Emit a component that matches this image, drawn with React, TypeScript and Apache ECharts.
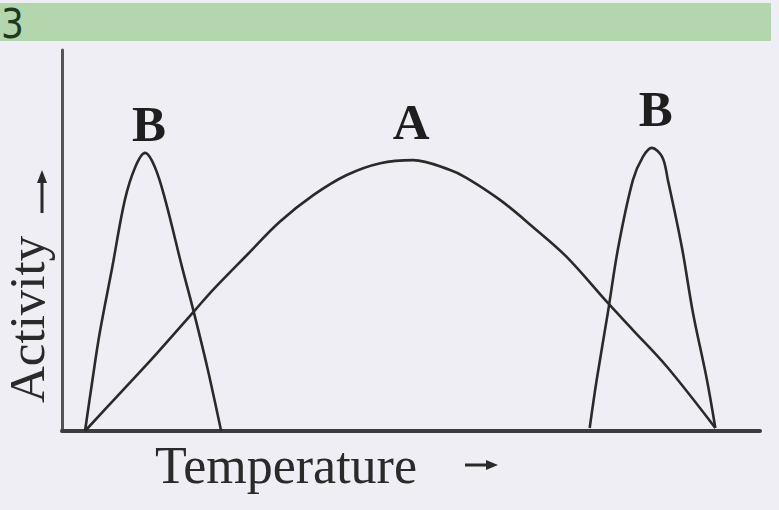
import React, { useEffect, useRef } from "react";
import * as echarts from "echarts";

// Temperature (0-100) vs Activity (0-100)
const curveA: [number, number][] = [
  [3.3, 0], [8.0, 9.3], [13.5, 20.2], [19.1, 31.8], [21.6, 37.0], [26.5, 46.2],
  [31.2, 54.9], [36.0, 61.9], [40.8, 67.2], [45.6, 70.3], [50.3, 71.1],
  [55.6, 68.5], [58.0, 66.4], [62.8, 60.6], [67.5, 53.5], [72.3, 45.7],
  [78.2, 33.6], [81.8, 26.5], [86.7, 16.8], [93.6, 0.8],
];
const curveBLow: [number, number][] = [
  [3.3, 0], [4.3, 12.6], [5.4, 25.7], [7.2, 43.0], [9.0, 60.6], [10.5, 69.3],
  [11.9, 73.0], [13.3, 69.3], [14.8, 60.6], [17.2, 43.0], [18.8, 31.8],
  [20.8, 16.8], [22.8, 0],
];
const curveBHigh: [number, number][] = [
  [75.6, 0.8], [76.6, 13.4], [78.2, 31.0], [79.7, 48.3], [81.8, 65.9], [83.2, 71.9],
  [84.5, 74.3], [86.0, 71.9], [86.8, 65.9], [88.8, 48.3], [90.4, 31.0],
  [92.4, 13.4], [93.6, 0.8],
];
const curveLabels = ["B", "A", "B"];
const xTitle = "Temperature";
const yTitle = "Activity";
const bandText = "3";

const INK = "#2a2a2a";

export default function App() {
  const ref = useRef<HTMLDivElement>(null);
  useEffect(() => {
    if (!ref.current) return;
    const chart = echarts.init(ref.current, undefined, { renderer: "svg" });
    const curves = [curveBLow, curveA, curveBHigh];
    const labelStyle = [
      { distance: 3, offset: [4, 0] },
      { distance: 13, offset: [-2, 0] },
      { distance: 13, offset: [4, 0] },
    ];
    const series = curves.map((pts, i) => ({
      type: "line",
      data: pts,
      smooth: 0.35,
      symbol: "none",
      lineStyle: { color: INK, width: 2.6 },
      markPoint: {
        symbol: "circle",
        symbolSize: 0,
        data: [{ type: "max", valueDim: "y" }],
        label: {
          show: true,
          formatter: curveLabels[i],
          position: "top",
          distance: labelStyle[i].distance,
          offset: labelStyle[i].offset,
          fontFamily: "Liberation Serif",
          fontWeight: "bold",
          fontSize: 51,
          color: "#1e1e1e",
        },
      },
    }));
    chart.setOption({
      animation: false,
      backgroundColor: "#eeeef4",
      grid: { left: 62, right: 19, top: 50, bottom: 79 },
      xAxis: {
        type: "value",
        min: 0,
        max: 100,
        axisLine: { show: true, onZero: false, lineStyle: { color: "#3c3c3c", width: 4 } },
        axisTick: { show: false },
        axisLabel: { show: false },
        splitLine: { show: false },
      },
      yAxis: {
        type: "value",
        min: 0,
        max: 100,
        axisLine: { show: true, onZero: false, lineStyle: { color: "#555", width: 3 } },
        axisTick: { show: false },
        axisLabel: { show: false },
        splitLine: { show: false },
      },
      series,
      graphic: [
        { type: "rect", shape: { x: 0, y: 3, width: 771, height: 38 }, style: { fill: "#b4d6ae" }, z: -1 },
        {
          type: "text", x: 1, y: 24,
          style: { text: bandText, fontFamily: "DejaVu Sans Condensed", fontSize: 40, fill: "#1f3a1f", textVerticalAlign: "middle" },
        },
        {
          type: "text", x: 155, y: 465,
          style: { text: xTitle, fontFamily: "Liberation Serif", fontSize: 52, fill: INK, textVerticalAlign: "middle" },
        },
        { type: "line", shape: { x1: 465, y1: 465, x2: 490, y2: 465 }, style: { stroke: INK, lineWidth: 3 } },
        { type: "polygon", shape: { points: [[486, 460], [498, 465], [486, 470]] }, style: { fill: INK } },
        {
          type: "text", x: 27, y: 403, rotation: Math.PI / 2,
          style: { text: yTitle, fontFamily: "Liberation Serif", fontSize: 51, fill: INK, textAlign: "left", textVerticalAlign: "middle" },
        },
        { type: "line", shape: { x1: 42, y1: 213, x2: 42, y2: 180 }, style: { stroke: INK, lineWidth: 3 } },
        { type: "polygon", shape: { points: [[37, 183], [42, 170], [47, 183]] }, style: { fill: INK } },
      ],
    });
    return () => chart.dispose();
  }, []);
  return <div ref={ref} style={{ position: "fixed", left: 0, top: 0, width: 779, height: 510 }} />;
}
